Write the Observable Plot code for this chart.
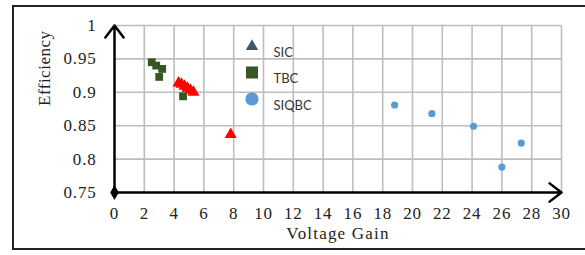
<!DOCTYPE html>
<html>
<head>
<meta charset="utf-8">
<script src="https://cdn.jsdelivr.net/npm/d3@7"></script>
<script src="https://cdn.jsdelivr.net/npm/@observablehq/plot@0.6"></script>
<style>
  html, body { margin: 0; padding: 0; background: #fff; }
  #wrap { position: relative; width: 585px; height: 255px; overflow: hidden; }
  #frame { position: absolute; left: 12px; top: 5px; width: 620px; height: 245px; border: 2px solid #222; box-sizing: border-box; }
  #chart { position: absolute; left: 0; top: 0; }
</style>
</head>
<body>
<div id="wrap"><div id="frame"></div><div id="chart"></div></div>
<script>
// Series data
const sicGain = [4.3, 4.5, 4.7, 4.9, 5.1, 5.3, 7.8];
const sicEff  = [0.914, 0.912, 0.909, 0.906, 0.903, 0.900, 0.837];
const tbcGain = [2.5, 2.8, 3.2, 3.0, 4.6];
const tbcEff  = [0.945, 0.940, 0.935, 0.923, 0.894];
const siqbcGain = [18.8, 21.3, 24.1, 26.0, 27.3];
const siqbcEff  = [0.881, 0.868, 0.849, 0.788, 0.824];

// Axes
const xDomain = [0, 30];
const yDomain = [0.75, 1];
const xTicks = [0, 2, 4, 6, 8, 10, 12, 14, 16, 18, 20, 22, 24, 26, 28, 30];
const yTicks = [0.75, 0.8, 0.85, 0.9, 0.95, 1];
const xTitle = "Voltage Gain";
const yTitle = "Efficiency";
const seriesNames = ["SIC", "TBC", "SIQBC"];

const sic = sicGain.map((x, i) => ({x, y: sicEff[i]}));
const tbc = tbcGain.map((x, i) => ({x, y: tbcEff[i]}));
const siqbc = siqbcGain.map((x, i) => ({x, y: siqbcEff[i]}));
const axisLines = [
  {x1: xDomain[0], y1: yDomain[0], x2: xDomain[1], y2: yDomain[0]},
  {x1: xDomain[0], y1: yDomain[0], x2: xDomain[0], y2: yDomain[1]}
];
const origin = [{x: xDomain[0], y: yDomain[0]}];

const serif = "'Liberation Serif', 'Times New Roman', serif";
const sans = "Lato, 'Open Sans', sans-serif";

const legendMarks = [
  {name: seriesNames[0], symbol: "triangle", fill: "#44546A", r: 4.6, dy: 21},
  {name: seriesNames[1], symbol: "square", fill: "#375623", r: 6.8, dy: 47},
  {name: seriesNames[2], symbol: "circle", fill: "#5B9BD5", r: 6.6, dy: 73.5}
];

const chart = Plot.plot({
  width: 585,
  height: 255,
  marginLeft: 114,
  marginRight: 24,
  marginTop: 25,
  marginBottom: 63,
  style: {fontFamily: serif, fontSize: "16px", color: "#222", background: "transparent"},
  x: {domain: xDomain},
  y: {domain: yDomain},
  marks: [
    Plot.gridX(xTicks.slice(1), {stroke: "#bdbdbd", strokeOpacity: 1, strokeWidth: 1.6}),
    Plot.gridY(yTicks.slice(1), {stroke: "#bdbdbd", strokeOpacity: 1, strokeWidth: 1.6}),
    Plot.axisX(xTicks, {tickSize: 0, tickPadding: 14, fontSize: 17, fontFamily: serif, fontVariant: "normal", fill: "#222", label: null}),
    Plot.axisY(yTicks, {tickSize: 0, tickPadding: 18, fontSize: 17, fontFamily: serif, fontVariant: "normal", fill: "#222", label: null, tickFormat: d => String(d)}),
    Plot.text([yTitle], {frameAnchor: "left", dx: -70, dy: -3, rotate: -90, fontSize: 17, fill: "#222"}),
    Plot.text([xTitle], {frameAnchor: "bottom", dy: 46, fontSize: 17, fill: "#222"}),
    Plot.arrow(axisLines, {x1: "x1", y1: "y1", x2: "x2", y2: "y2", stroke: "#000", strokeWidth: 2.5, headLength: 9, headAngle: 75}),
    Plot.dot(origin, {x: "x", y: "y", symbol: "diamond", fill: "#000", r: 4.5}),
    Plot.dot(tbc, {x: "x", y: "y", symbol: "square", fill: "#375623", r: 4.4}),
    Plot.dot(sic, {x: "x", y: "y", symbol: "triangle", fill: "#ff0000", r: 4.5}),
    Plot.dot(siqbc, {x: "x", y: "y", symbol: "circle", fill: "#5B9BD5", r: 3.6}),
    ...legendMarks.map(d => Plot.dot([d.name], {frameAnchor: "top-left", dx: 137.5, dy: d.dy, symbol: d.symbol, fill: d.fill, r: d.r})),
    ...legendMarks.map(d => Plot.text([d.name], {frameAnchor: "top-left", dx: 159, dy: d.dy + 1.5, textAnchor: "start", fontSize: 13, fontFamily: sans, fill: "#333"}))
  ]
});
d3.select(chart).selectAll("g").each(function() {
  if (this.getAttribute("font-variant")) this.setAttribute("font-variant", "normal");
});
d3.select(chart).selectAll("text").each(function() {
  const t = this.textContent.trim();
  const isLegend = seriesNames.includes(t);
  this.style.setProperty("font-family", isLegend ? sans : serif, "important");
  this.style.setProperty("font-variant", "normal", "important");
  if (t === xTitle) this.style.setProperty("letter-spacing", "1.2px");
  else if (t === yTitle) this.style.setProperty("letter-spacing", "0.5px");
  else if (!isLegend) this.style.setProperty("letter-spacing", "0.8px");
});
document.getElementById("chart").appendChild(chart);
</script>
</body>
</html>
